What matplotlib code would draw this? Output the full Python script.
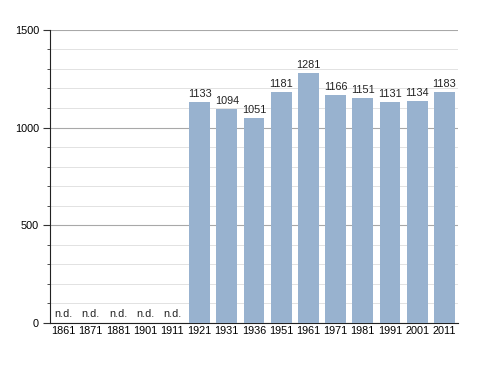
import matplotlib
matplotlib.use('Agg')
import matplotlib.pyplot as plt
from matplotlib.ticker import MultipleLocator

plt.rcParams['font.family'] = ['Liberation Sans', 'DejaVu Sans']

# ========== 数据 ==========
years = ['1861', '1871', '1881', '1901', '1911', '1921', '1931', '1936',
         '1951', '1961', '1971', '1981', '1991', '2001', '2011']
population = [None, None, None, None, None, 1133, 1094, 1051,
              1181, 1281, 1166, 1151, 1131, 1134, 1183]

bar_color = '#98b2cf'

fig = plt.figure(figsize=(4.88, 3.73), dpi=100)
ax = fig.add_axes([0.1025, 0.134, 0.836, 0.786])

x = list(range(len(years)))
heights = [v if v is not None else 0 for v in population]
bars = ax.bar(x, heights, width=0.77, color=bar_color, zorder=3)

for xi, v in zip(x, population):
    if v is None:
        ax.text(xi, 20, 'n.d.', ha='center', va='bottom', fontsize=7.8, color='#222222')
    else:
        ax.text(xi, v + 15, str(v), ha='center', va='bottom', fontsize=7.8, color='#222222')

ax.set_xlim(-0.5, len(years) - 0.5)
ax.set_ylim(0, 1500)
ax.set_xticks(x)
ax.set_xticklabels(years, fontsize=7.8)
ax.yaxis.set_major_locator(MultipleLocator(500))
ax.yaxis.set_minor_locator(MultipleLocator(100))
ax.tick_params(axis='y', which='major', labelsize=7.8, length=5, width=0.8, color='#333333', pad=3)
ax.tick_params(axis='y', which='minor', length=2, width=0.6, color='#333333')
ax.tick_params(axis='x', length=0, pad=2)

# 网格线
ax.grid(True, which='major', axis='y', color='#a8a8a8', linewidth=0.8, zorder=0)
ax.grid(True, which='minor', axis='y', color='#e2e2e2', linewidth=0.7, zorder=0)

for s in ['top', 'right']:
    ax.spines[s].set_visible(False)
ax.spines['left'].set_color('#222222')
ax.spines['bottom'].set_color('#222222')
ax.spines['left'].set_linewidth(0.8)
ax.spines['bottom'].set_linewidth(0.8)

fig.savefig('out.png', dpi=100)
